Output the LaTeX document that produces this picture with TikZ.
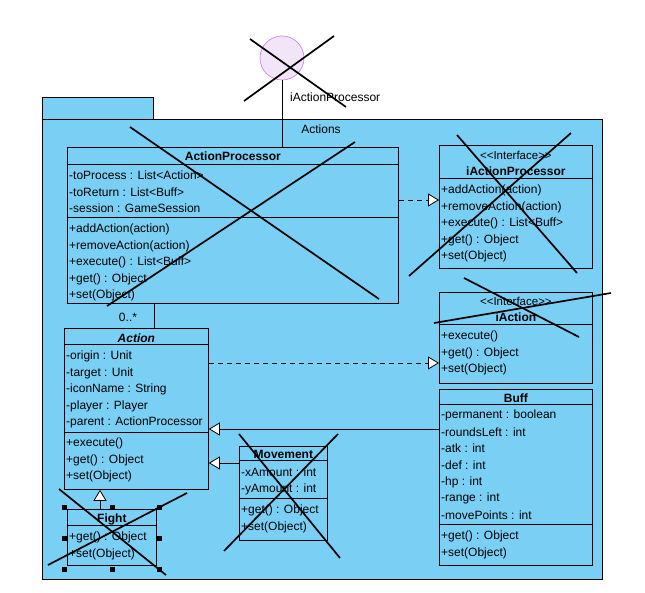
\documentclass[tikz,border=0pt]{standalone}
\usepackage{fontspec}
\setmainfont{Liberation Sans}
\usetikzlibrary{calc,arrows.meta}
\definecolor{pkgfill}{HTML}{7ACFF5}
\definecolor{ballfill}{HTML}{F3E5F8}
\definecolor{balledge}{HTML}{C98BE0}
\definecolor{ink}{HTML}{000000}
\tikzset{
  pkgbox/.style={draw=ink, line width=0.9pt, fill=pkgfill, anchor=north west, inner sep=0pt},
  cls/.style={draw=ink, line width=0.8pt, fill=pkgfill, anchor=north west, inner sep=0pt},
  sep/.style={draw=ink, line width=0.8pt},
  row/.style={anchor=west, inner sep=1pt, font=\fontsize{12}{14}\selectfont},
  cname/.style={inner sep=0pt, font=\fontsize{12}{14}\selectfont\bfseries},
  stereo/.style={inner sep=0pt, font=\fontsize{11.5}{14}\selectfont},
  ball/.style={circle, draw=balledge, fill=ballfill, line width=0.7pt, minimum size=44pt, inner sep=0pt},
  cross/.style={draw=ink, line width=1.7pt},
  assoc/.style={draw=ink, line width=0.8pt},
  real/.style={assoc, dash pattern=on 5pt off 4pt, -{Triangle[fill=white, length=11pt, width=13pt]}},
  gen/.style={assoc, -{Triangle[fill=white, length=11pt, width=13pt]}},
  handle/.style={fill=ink, minimum size=5pt, inner sep=0pt}
}

\begin{document}
\begin{tikzpicture}[x=1pt,y=-1pt]
  \useasboundingbox (0,0) rectangle (645,593);

  % package
  \node[pkgbox, minimum width=111pt, minimum height=22pt] (tab) at (42,97) {};
  \node[pkgbox, minimum width=560pt, minimum height=460pt] (pkg) at (42,119) {};
  \node[row, anchor=center] (pkgname) at (321,129) {Actions};

  % provided interface
  \node[ball] (ifc) at (282,58) {};
  \node[row] (ifclab) at (289,97) {iActionProcessor};

  % ActionProcessor
  \node[cls, minimum width=331pt, minimum height=156pt] (ap) at (67,147) {};
  \node[cname] (ap-n) at ($(ap.north)+(0,9.5)$) {ActionProcessor};
  \draw[sep] ($(ap.north west)+(0,17)$) -- ($(ap.north east)+(0,17)$);
  \draw[sep] ($(ap.north west)+(0,70)$) -- ($(ap.north east)+(0,70)$);
  \foreach \t [count=\i from 0] in {-toProcess : List<Action>, -toReturn : List<Buff>, -session : GameSession}
    \node[row] (ap-a\i) at ($(ap.north west)+(1,28.5+16.5*\i)$) {\t};
  \foreach \t [count=\i from 0] in {+addAction(action), +removeAction(action), +execute() : List<Buff>, +get() : Object, +set(Object)}
    \node[row] (ap-o\i) at ($(ap.north west)+(1,82.5+16.5*\i)$) {\t};

  % iActionProcessor
  \node[cls, minimum width=153pt, minimum height=123pt] (iap) at (439,145) {};
  \node[stereo] (iap-s) at ($(iap.north)+(0,10)$) {<\kern0pt<Interface>\kern0pt>};
  \node[cname] (iap-n) at ($(iap.north)+(0,26)$) {iActionProcessor};
  \draw[sep] ($(iap.north west)+(0,33)$) -- ($(iap.north east)+(0,33)$);
  \foreach \t [count=\i from 0] in {+addAction(action), +removeAction(action), +execute() : List<Buff>, +get() : Object, +set(Object)}
    \node[row] (iap-o\i) at ($(iap.north west)+(1,45.5+16.5*\i)$) {\t};

  % iAction
  \node[cls, minimum width=153pt, minimum height=91pt] (ia) at (439,292) {};
  \node[stereo] (ia-s) at ($(ia.north)+(0,9.5)$) {<\kern0pt<Interface>\kern0pt>};
  \node[cname] (ia-n) at ($(ia.north)+(0,25)$) {iAction};
  \draw[sep] ($(ia.north west)+(0,32)$) -- ($(ia.north east)+(0,32)$);
  \foreach \t [count=\i from 0] in {+execute(), +get() : Object, +set(Object)}
    \node[row] (ia-o\i) at ($(ia.north west)+(1,44.5+16.5*\i)$) {\t};

  % Action
  \node[cls, minimum width=144pt, minimum height=161pt] (act) at (64,328) {};
  \node[cname, font=\fontsize{12}{14}\selectfont\bfseries\itshape] (act-n) at ($(act.north)+(0,10)$) {Action};
  \draw[sep] ($(act.north west)+(0,16)$) -- ($(act.north east)+(0,16)$);
  \draw[sep] ($(act.north west)+(0,104)$) -- ($(act.north east)+(0,104)$);
  \foreach \t [count=\i from 0] in {-origin : Unit, -target : Unit, -iconName : String, -player : Player, -parent : ActionProcessor}
    \node[row] (act-a\i) at ($(act.north west)+(1,28.5+16.5*\i)$) {\t};
  \foreach \t [count=\i from 0] in {+execute(), +get() : Object, +set(Object)}
    \node[row] (act-o\i) at ($(act.north west)+(1,115.5+16.5*\i)$) {\t};

  % Buff
  \node[cls, minimum width=153pt, minimum height=176pt] (buff) at (439,389) {};
  \node[cname] (buff-n) at ($(buff.north)+(0,9)$) {Buff};
  \draw[sep] ($(buff.north west)+(0,15)$) -- ($(buff.north east)+(0,15)$);
  \draw[sep] ($(buff.north west)+(0,135)$) -- ($(buff.north east)+(0,135)$);
  \foreach \t [count=\i from 0] in {-permanent : boolean, -roundsLeft : int, -atk : int, -def : int, -hp : int, -range : int, -movePoints : int}
    \node[row] (buff-a\i) at ($(buff.north west)+(1,26.5+16.6*\i)$) {\t};
  \foreach \t [count=\i from 0] in {+get() : Object, +set(Object)}
    \node[row] (buff-o\i) at ($(buff.north west)+(1,147.5+16.5*\i)$) {\t};

  % Movement
  \node[cls, minimum width=88pt, minimum height=94pt] (mov) at (239,446) {};
  \node[cname] (mov-n) at ($(mov.north)+(0,8.5)$) {Movement};
  \draw[sep] ($(mov.north west)+(0,14)$) -- ($(mov.north east)+(0,14)$);
  \draw[sep] ($(mov.north west)+(0,52)$) -- ($(mov.north east)+(0,52)$);
  \foreach \t [count=\i from 0] in {-xAmount : int, -yAmount : int}
    \node[row] (mov-a\i) at ($(mov.north west)+(1,26.5+16.5*\i)$) {\t};
  \foreach \t [count=\i from 0] in {+get() : Object, +set(Object)}
    \node[row] (mov-o\i) at ($(mov.north west)+(1,64.5+16.5*\i)$) {\t};

  % Fight
  \node[cls, minimum width=89pt, minimum height=56pt] (fight) at (67,509) {};
  \node[cname] (fight-n) at ($(fight.north)+(0,10)$) {Fight};
  \draw[sep] ($(fight.north west)+(0,16)$) -- ($(fight.north east)+(0,16)$);
  \foreach \t [count=\i from 0] in {+get() : Object, +set(Object)}
    \node[row] (fight-o\i) at ($(fight.north west)+(1,28.5+16.5*\i)$) {\t};

  % connectors
  \coordinate (m1) at (154,0);
  \coordinate (r1) at (0,200);
  \coordinate (r2) at (0,363);
  \coordinate (g1) at (0,429);
  \coordinate (g2) at (0,463);
  \coordinate (g3) at (100,0);
  \draw[assoc] (ifc.south) -- (ifc.south |- ap.north);
  \draw[assoc] (ap.south -| m1) -- (act.north -| m1);
  \node[row, anchor=center] (mult) at (128,317) {0..*};
  \draw[real] (ap.east |- r1) -- (iap.west |- r1);
  \draw[real] (act.east |- r2) -- (ia.west |- r2);
  \draw[gen] (buff.west |- g1) -- (act.east |- g1);
  \draw[gen] (mov.west |- g2) -- (act.east |- g2);
  \draw[gen] (fight.north -| g3) -- (act.south -| g3);

  % crossed out elements
  \foreach \xa/\ya/\xb/\yb in {250/39/346/107, 334/36/244/101,
      130/127/379/299, 355/142/107/306,
      457/135/577/273, 571/133/409/276,
      464/278/579/337, 434/323/611/293,
      239/434/340/558, 338/434/224/551,
      59/489/166/575, 187/493/48/565}
    \draw[cross] (\xa,\ya) -- (\xb,\yb);

  % selection handles
  \foreach \hx/\hy [count=\i] in {64/507, 112/507, 159/507, 64/538, 159/538, 64/569, 112/569, 159/569}
    \node[handle] (h\i) at (\hx,\hy) {};
\end{tikzpicture}
\end{document}
